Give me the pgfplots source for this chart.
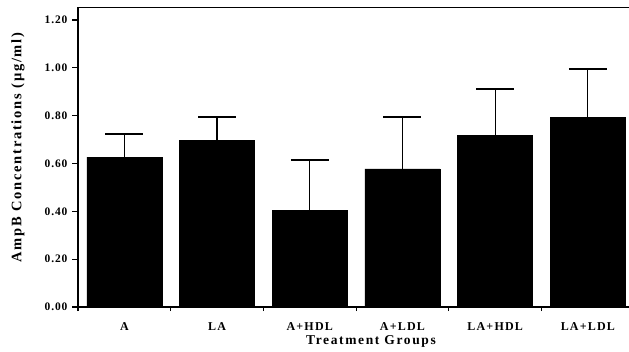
\documentclass[border=0pt]{standalone}
\usepackage{fontspec}
\setmainfont{Liberation Serif}
\usepackage{pgfplots}
\pgfplotsset{compat=1.18}
\begin{document}
\begin{tikzpicture}
\path[use as bounding box] (0pt,0pt) rectangle (629pt,351pt);
\begin{axis}[
  at={(78pt,44pt)}, anchor=south west,
  scale only axis, width=551pt, height=299.5pt,
  xmin=-0.5, xmax=5.444, ymin=0, ymax=1.252,
  axis x line*=bottom, axis y line*=left,
  axis line style={line width=1.6pt, -},
  ybar, bar width=75pt,
  xtick={0,1,2,3,4,5},
  xticklabels={A,LA,A+HDL,A+LDL,LA+HDL,LA+LDL},
  minor xtick={-0.5,0.5,1.5,2.5,3.5,4.5},
  ytick={0,0.2,0.4,0.6,0.8,1.0,1.2},
  tick align=outside,
  major tick length=6pt, minor tick length=4pt,
  every major x tick/.append style={draw=none},
  tick style={line width=1.2pt, black},
  yticklabel style={font=\bfseries\fontsize{11.5}{13}\selectfont\addfontfeature{LetterSpace=8}, xshift=-1pt},
  xticklabel style={font=\bfseries\fontsize{12}{14}\selectfont\addfontfeature{LetterSpace=10}, anchor=base, yshift=-17pt, inner sep=0pt},
  /pgf/number format/.cd, fixed, zerofill, precision=2, assume math mode=true,
  /pgfplots/.cd,
  after end axis/.code={\draw[line width=1.4pt] (rel axis cs:0,1) -- (rel axis cs:1,1);},
]
\addplot[fill=black, draw=black,
  error bars/.cd, y dir=plus, y explicit,
  error bar style={line width=1.2pt, black},
  error mark options={rotate=90, line width=1.8pt, mark size=19pt, black}]
  coordinates {
  (0,0.627) +- (0,0.097)
  (1,0.697) +- (0,0.097)
  (2,0.403) +- (0,0.213)
  (3,0.577) +- (0,0.217)
  (4,0.719) +- (0,0.193)
  (5,0.794) +- (0,0.200)
  };
\end{axis}
\node[rotate=90, font=\bfseries\fontsize{14.5}{17}\selectfont\addfontfeature{LetterSpace=12}] at (18pt,203.5pt) {AmpB Concentrations (µg/ml)};
\node[anchor=base, inner sep=0pt, font=\bfseries\fontsize{13.5}{16}\selectfont\addfontfeature{LetterSpace=12}] at (371pt,6.5pt) {Treatment Groups};
\end{tikzpicture}
\end{document}
